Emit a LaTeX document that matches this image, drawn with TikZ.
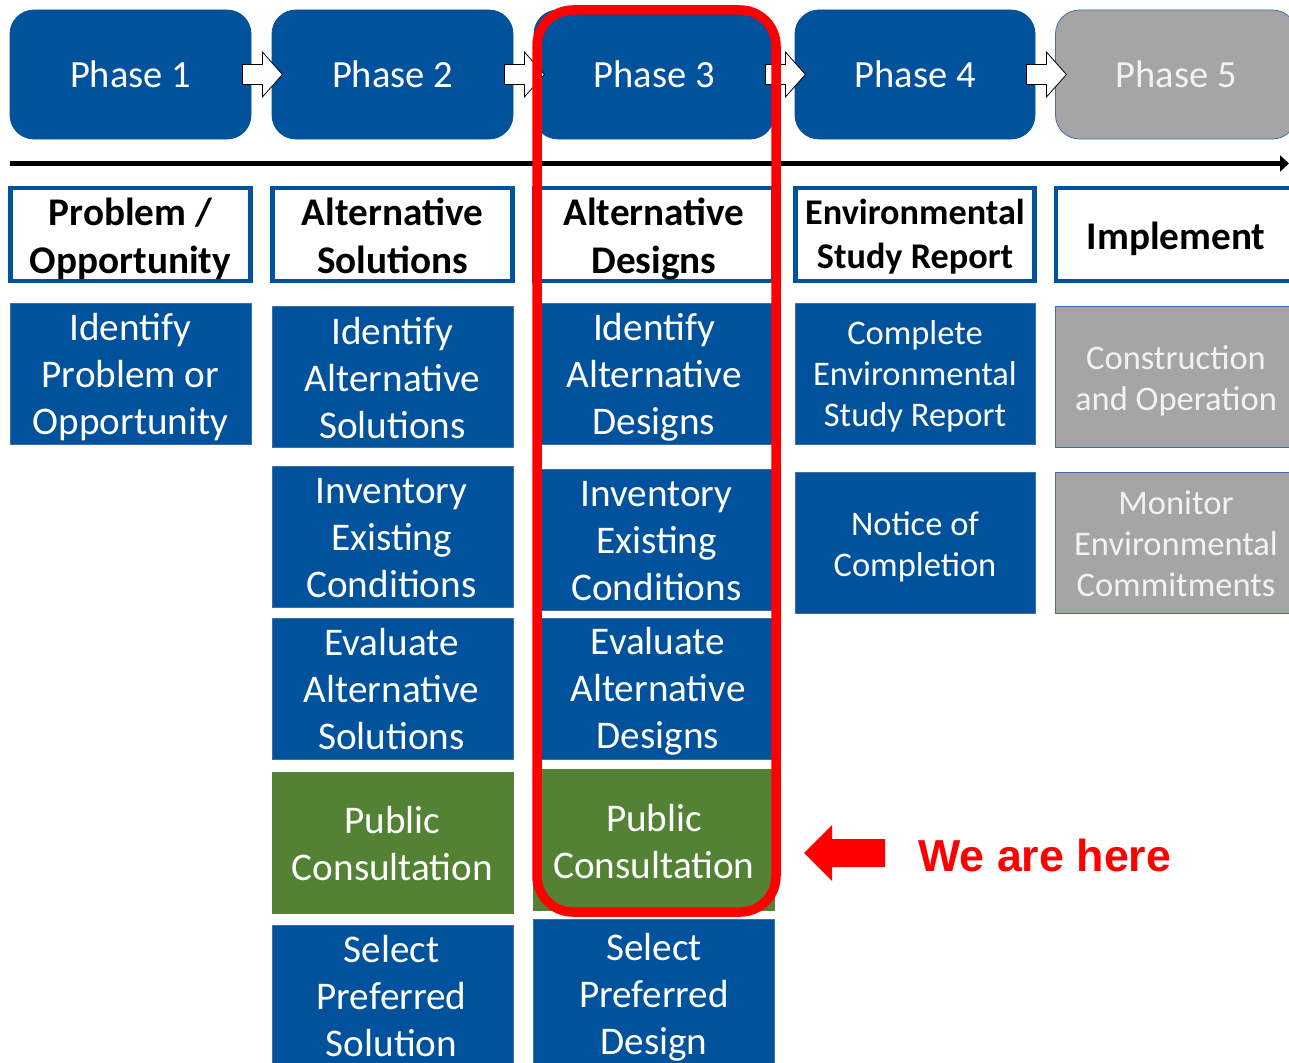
\documentclass[tikz,border=0pt]{standalone}
\usepackage{fontspec}
\setmainfont{Carlito}
\newfontfamily\arialfont{Liberation Sans}
\usetikzlibrary{arrows.meta,calc}
\definecolor{pblue}{HTML}{01529C}
\definecolor{pedge}{HTML}{3F6FA8}
\definecolor{pgreen}{HTML}{548235}
\definecolor{pgray}{HTML}{A5A5A5}
\definecolor{pgraytext}{HTML}{F2F2F2}
\definecolor{pred}{HTML}{FF0000}
\newcommand\blockarr[1]{\draw[barrow] ($(#1.east)+(-9,-10)$) -- ++(20,0) -- ++(0,-12.5) -- ++(20,22.5) -- ++(-20,22.5) -- ++(0,-12.5) -- ++(-20,0) -- cycle;}
% #1 box style, #2 text style, #3 name, #4 centre, #5 text offset, #6 text
\newcommand\bxt[6]{\node[#1] (#3) at (#4) {}; \node[#2] (#3t) at ($(#3.center)+(#5)$) {#6};}
\begin{document}
\begin{tikzpicture}[x=1pt,y=-1pt,
  phasebox/.style={fill=pblue, draw=pblue, line width=0.8pt, rounded corners=24pt, minimum width=241pt, minimum height=129pt, inner sep=0pt, text=white, font=\fontsize{38.5}{44}\selectfont},
  barrow/.style={fill=white, draw=black, line width=0.8pt, line join=miter},
  headbox/.style={draw=pblue, line width=4.5pt, fill=white, minimum width=240pt, minimum height=93pt, inner sep=0pt},
  headtext/.style={inner sep=0pt, align=center, text=black, font=\bfseries\fontsize{39.2}{48}\selectfont},
  headtextsm/.style={headtext, font=\bfseries\fontsize{36.2}{44}\selectfont},
  bodybox/.style={draw=pedge, line width=0.8pt, fill=pblue, minimum width=241pt, minimum height=141pt, inner sep=0pt},
  greenbox/.style={bodybox, fill=pgreen, draw=pgreen},
  graybox/.style={bodybox, fill=pgray, draw=pedge},
  bodytext/.style={inner sep=0pt, align=center, text=white, font=\fontsize{39.2}{47}\selectfont},
  smalltext/.style={bodytext, font=\fontsize{34.5}{41}\selectfont},
  graytext/.style={smalltext, text=pgraytext},
]
\useasboundingbox (0,0) rectangle (1289,1062);
\clip (0,0) rectangle (1289,1062);

% phase boxes
\node[phasebox] (p1) at (130.5,74.5) {Phase 1};
\node[phasebox] (p2) at (392.5,74.5) {Phase 2};
\node[phasebox, minimum width=240pt] (p3) at (654,74.5) {Phase 3};
\node[phasebox, minimum width=240pt] (p4) at (915,74.5) {Phase 4};
\node[phasebox, fill=pgray, draw=pedge, text=pgraytext] (p5) at (1176,74.5) {Phase 5};

% block arrows
\blockarr{p1}
\blockarr{p2}
\blockarr{p3}
\blockarr{p4}

% timeline
\coordinate (tlA) at (10,163.5);
\coordinate (tlB) at (1289,163.5);
\draw[line width=5pt, -{Triangle[length=9pt,width=16pt]}] (tlA) -- (tlB);

% headers
\bxt{headbox}{headtext}{h1}{130.5,234.5}{0,4}{Problem /\\Opportunity}
\bxt{headbox}{headtext}{h2}{392.5,234.5}{0,1.5}{Alternative\\Solutions}
\bxt{headbox, minimum width=239pt}{headtext}{h3}{654,234.5}{0,4.5}{Alternative\\Designs}
\bxt{headbox, minimum width=239pt}{headtextsm}{h4}{915,234.5}{0,2}{Environmental\\Study Report}
\bxt{headbox}{headtext}{h5}{1176,234.5}{0,4}{Implement}

% column 1
\bxt{bodybox}{bodytext}{c1a}{130.5,373.5}{0,4}{Identify\\Problem or\\Opportunity}

% column 2
\bxt{bodybox}{bodytext}{c2a}{392.5,376.5}{0,1.5}{Identify\\Alternative\\Solutions}
\bxt{bodybox}{bodytext}{c2b}{392.5,536.5}{-1,1.5}{Inventory\\Existing\\Conditions}
\bxt{bodybox}{bodytext}{c2c}{392.5,688.5}{-1,0.5}{Evaluate\\Alternative\\Solutions}
\bxt{greenbox}{bodytext}{c2d}{392.5,842.5}{0,1.5}{Public\\Consultation}
\bxt{bodybox, minimum height=142pt}{bodytext}{c2e}{392.5,996}{-1,0}{Select\\Preferred\\Solution}

% column 3
\bxt{bodybox, minimum width=240pt}{bodytext}{c3a}{654,373.5}{0,4}{Identify\\Alternative\\Designs}
\bxt{bodybox, minimum width=240pt}{bodytext}{c3b}{655,539.5}{1.5,2}{Inventory\\Existing\\Conditions}
\bxt{bodybox, minimum width=240pt}{bodytext}{c3c}{655,688.5}{3,3}{Evaluate\\Alternative\\Designs}
\bxt{greenbox}{bodytext}{c3d}{654,840}{0,1.5}{Public\\Consultation}
\bxt{bodybox, minimum height=150pt}{bodytext}{c3e}{654,994}{0,3}{Select\\Preferred\\Design}

% column 4
\bxt{bodybox, minimum width=240pt}{smalltext}{c4a}{915,373.5}{0,3}{Complete\\Environmental\\Study Report}
\bxt{bodybox, minimum width=240pt}{smalltext}{c4b}{915,542.5}{0,4}{Notice of\\Completion}

% column 5
\bxt{graybox}{graytext}{c5a}{1176,376.5}{0,4}{Construction\\and Operation}
\bxt{graybox}{graytext}{c5b}{1176,542.5}{0,1}{Monitor\\Environmental\\Commitments}

% highlight
\node[draw=pred, line width=9.5pt, rounded corners=36pt, minimum width=239pt, minimum height=902pt, inner sep=0pt] (here) at (656.5,461) {};

% we are here
\coordinate (rtip) at (804,853);
\fill[pred] (rtip) -- ++(28,-28) -- ++(0,14) -- ++(53,0) -- ++(0,28) -- ++(-53,0) -- ++(0,14) -- cycle;
\node[anchor=base west, inner sep=0pt, text=pred, font=\arialfont\bfseries\fontsize{44.8}{50}\selectfont] (wah) at (918,871) {We are here};
\end{tikzpicture}
\end{document}
